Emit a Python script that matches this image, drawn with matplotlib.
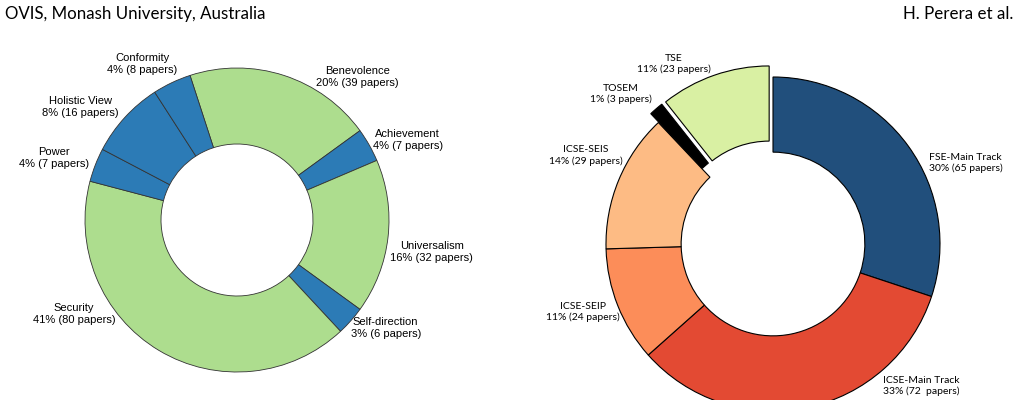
import matplotlib
matplotlib.use("Agg")
import matplotlib.pyplot as plt
import numpy as np

# left donut: human values
value_names = ["Benevolence", "Achievement", "Universalism", "Self-direction",
               "Security", "Power", "Holistic View", "Conformity"]
value_papers = [39, 7, 32, 6, 80, 7, 16, 8]
value_pct = ["20%", "4%", "16%", "3%", "41%", "4%", "8%", "4%"]
value_colors = ["#addd8e", "#2c7bb6", "#addd8e", "#2c7bb6",
                "#addd8e", "#2c7bb6", "#2c7bb6", "#2c7bb6"]

# right donut: venues
venue_names = ["FSE-Main Track", "ICSE-Main Track", "ICSE-SEIP", "ICSE-SEIS", "TOSEM", "TSE"]
venue_papers = [65, 72, 24, 29, 3, 23]
venue_pct = ["30%", "33%", "11%", "14%", "1%", "11%"]
venue_count_text = ["65 papers", "72  papers", "24 papers", "29 papers", "3 papers", "23 papers"]
venue_colors = ["#214f7c", "#e34a33", "#fc8d59", "#fdbb84", "#000000", "#d9f0a3"]
venue_explode = [0, 0, 0, 0, 0.07, 0.07]

# label placement tweaks (angle offset from wedge middle in deg, distance in radii)
left_label_layout = [(-22, 1.23), (-4.5, 1.24), (-3, 1.30), (5.5, 1.21),
                     (-29, 1.24), (2.5, 1.27), (6.5, 1.27), (6, 1.20)]
right_label_layout = [(-13, 1.25), (34.7, 1.23), (-2, 1.21), (-2.8, 1.24),
                      (4.7, 1.28), (9.7, 1.23)]

W, H = 1020, 400
fig = plt.figure(figsize=(W / 100, H / 100), dpi=100)


def donut_axes(cx, cy, r, lim):
    # cx, cy in pixels from top-left, r = pie radius in pixels
    half = r * lim
    ax = fig.add_axes([(cx - half) / W, (H - cy - half) / H, 2 * half / W, 2 * half / H])
    return ax


def place_labels(ax, wedges, texts, layout, **kw):
    for w, t, (off, dist) in zip(wedges, texts, layout):
        mid = np.deg2rad((w.theta1 + w.theta2) / 2 + off)
        ax.text(dist * np.cos(mid), dist * np.sin(mid), t,
                ha="center", va="center", linespacing=1.25, **kw)


# left
axl = donut_axes(237, 220, 152, 1.45)
wl, _ = axl.pie(value_papers, colors=value_colors, startangle=108, counterclock=False,
                radius=1, wedgeprops=dict(width=0.5, edgecolor="#333333", linewidth=0.6))
axl.set_xlim(-1.45, 1.45)
axl.set_ylim(-1.45, 1.45)
left_texts = [f"{n}\n{p} ({c} papers)" for n, p, c in zip(value_names, value_pct, value_papers)]
place_labels(axl, wl, left_texts, left_label_layout, fontsize=8, family="Liberation Sans")

# right
axr = donut_axes(773, 244, 167, 1.45)
wr, _ = axr.pie(venue_papers, colors=venue_colors, startangle=90, counterclock=False,
                radius=1, explode=venue_explode,
                wedgeprops=dict(width=0.45, edgecolor="black", linewidth=0.8))
axr.set_xlim(-1.45, 1.45)
axr.set_ylim(-1.45, 1.45)
right_texts = [f"{n}\n{p} ({c})" for n, p, c in zip(venue_names, venue_pct, venue_count_text)]
place_labels(axr, wr, right_texts, right_label_layout, fontsize=7.5, family="Lato")

# page header
fig.text(5 / W, 1 - 14 / H, "OVIS, Monash University, Australia", ha="left", va="center",
         fontsize=12.2, family="Lato")
fig.text(1013 / W, 1 - 14 / H, "H. Perera et al.", ha="right", va="center",
         fontsize=12.2, family="Lato")

fig.savefig("out.png", dpi=100)
